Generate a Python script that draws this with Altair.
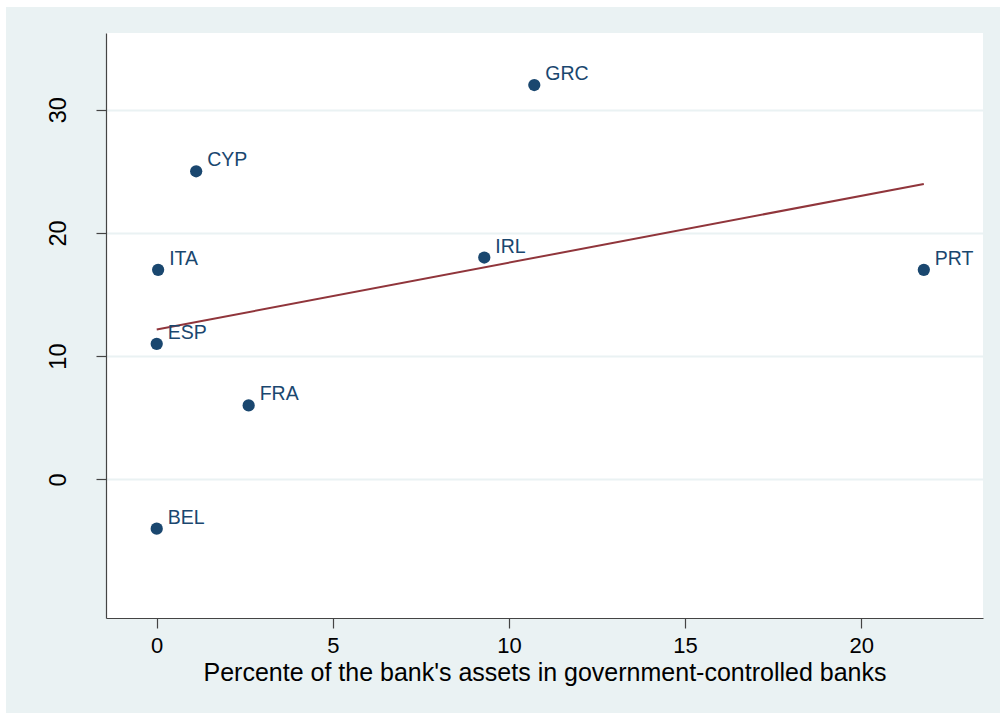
import altair as alt
import pandas as pd

countries = ["GRC", "CYP", "ITA", "IRL", "PRT", "ESP", "FRA", "BEL"]
gov_share = [10.72, 1.12, 0.04, 9.30, 21.78, 0.0, 2.61, 0.0]
outcome = [32, 25, 17, 18, 17, 11, 6, -4]

x_ticks = [0, 5, 10, 15, 20]
y_ticks = [0, 10, 20, 30]
x_title = "Percente of the bank's assets in government-controlled banks"

df = pd.DataFrame({"country": countries, "share": gov_share, "value": outcome})

NAVY = "#1A476F"
MAROON = "#90353B"
BG = "#EAF2F3"
FONT = "Liberation Sans"

x_enc = alt.X("share:Q",
              scale=alt.Scale(domain=[-1.44, 23.46], nice=False, zero=False),
              axis=alt.Axis(values=x_ticks, title=x_title, grid=False,
                            tickSize=10, labelPadding=7, labelFontSize=22,
                            labelFont=FONT, labelColor="black", labelAngle=0,
                            titleFont=FONT, titleFontSize=25, titleFontWeight="normal",
                            titleColor="black", titleY=62, titleBaseline="alphabetic",
                            domainColor="#444", tickColor="#444", domainWidth=1.2,
                            tickWidth=1.2, format="d"))
y_enc = alt.Y("value:Q",
              scale=alt.Scale(domain=[-11.25, 36.22], nice=False, zero=False),
              axis=alt.Axis(values=y_ticks, title="", grid=True, gridColor=BG,
                            gridWidth=2, tickSize=10, labelPadding=31,
                            labelFontSize=23.5, labelFont=FONT, labelColor="black",
                            labelAngle=-90, labelAlign="center",
                            labelBaseline="alphabetic",
                            domainColor="#444", tickColor="#444", domainWidth=1.2,
                            tickWidth=1.2, format="d"))

base = alt.Chart(df)

points = base.mark_point(filled=True, size=150, color=NAVY, opacity=1).encode(x=x_enc, y=y_enc)
labels = base.mark_text(align="left", baseline="alphabetic", dx=11, dy=-5,
                        fontSize=19.5, font=FONT, color=NAVY).encode(
    x="share:Q", y="value:Q", text="country:N")
fit = base.transform_regression("share", "value").mark_line(
    color=MAROON, strokeWidth=2).encode(x="share:Q", y="value:Q")

strip_data = alt.Data(values=[{"k": 1}])
left_strip = alt.Chart(strip_data).mark_rect(color="white").encode(
    x=alt.value(-106), x2=alt.value(-100), y=alt.value(-33), y2=alt.value(680))
top_strip = alt.Chart(strip_data).mark_rect(color="white").encode(
    x=alt.value(-106), x2=alt.value(894), y=alt.value(-33), y2=alt.value(-26))

chart = alt.layer(points, fit, labels, left_strip, top_strip).properties(
    width=877, height=585,
    background=BG,
    padding={"left": 106, "top": 33, "right": 17, "bottom": 95},
    autosize=alt.AutoSizeParams(type="none"),
).configure_view(fill="white", strokeWidth=0)

chart.save("out.html", embed_options={"renderer": "svg", "actions": False})
